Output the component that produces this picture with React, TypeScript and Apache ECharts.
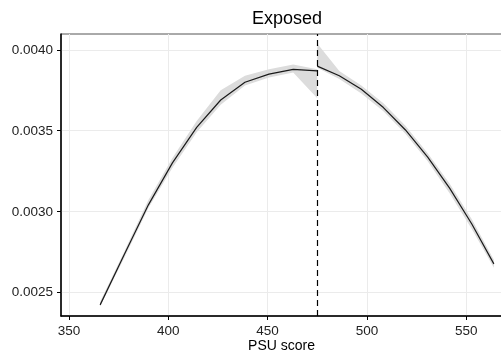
import React, { useEffect, useRef } from "react";
import * as echarts from "echarts";

const leftX = [365.7, 377.8, 390.0, 402.1, 414.3, 426.4, 438.6, 450.7, 462.9, 475.0];
const leftY = [0.00242, 0.00273, 0.00304, 0.0033, 0.00352, 0.00369, 0.0038, 0.00385, 0.00388, 0.00387];
const leftLo = [0.00241, 0.00271, 0.00302, 0.00327, 0.00349, 0.00366, 0.00378, 0.00383, 0.00386, 0.0037];
const leftHi = [0.00244, 0.00275, 0.00307, 0.00333, 0.00356, 0.00375, 0.00384, 0.00388, 0.00391, 0.00388];

const rightX = [475.0, 486.1, 497.2, 508.3, 519.4, 530.6, 541.7, 552.8, 563.9];
const rightY = [0.0039, 0.00384, 0.003756, 0.003643, 0.003504, 0.003336, 0.003142, 0.002921, 0.002674];
const rightLo = [0.00389, 0.00382, 0.00373, 0.00362, 0.00348, 0.00331, 0.00311, 0.00289, 0.00265];
const rightHi = [0.00404, 0.00387, 0.00378, 0.00367, 0.00353, 0.00336, 0.00317, 0.00295, 0.0027];

const xTicks = [350, 400, 450, 500, 550];
const yTicks = [0.0025, 0.003, 0.0035, 0.004];
const cutoff = 475;

const FONT = "Liberation Sans, Arial, Helvetica, sans-serif";

function bandSeries(xs: number[], lo: number[], hi: number[]) {
  return {
    type: "custom",
    silent: true,
    z: 1,
    data: xs.map((x, i) => [x, lo[i], hi[i]]),
    encode: { x: 0, y: [1, 2] },
    renderItem: (params: any, api: any) => {
      if (params.dataIndex !== 0) return null;
      const top = xs.map((x, i) => api.coord([x, hi[i]]));
      const bottom = xs.map((x, i) => api.coord([x, lo[i]])).reverse();
      return {
        type: "polygon",
        shape: { points: top.concat(bottom) },
        style: { fill: "#dcdcdc", stroke: "none" },
      };
    },
  };
}

export default function App() {
  const ref = useRef<HTMLDivElement>(null);
  useEffect(() => {
    if (!ref.current) return;
    const chart = echarts.init(ref.current, null, { renderer: "svg" });
    const pairs = (xs: number[], ys: number[]) => xs.map((x, i) => [x, ys[i]]);
    chart.setOption({
      animation: false,
      title: {
        text: "Exposed",
        left: 282,
        top: 4,
        textAlign: "center",
        textStyle: { fontFamily: FONT, fontSize: 18, fontWeight: "normal", color: "#000" },
      },
      grid: {
        left: 61,
        top: 34,
        right: -1,
        bottom: 38,
        show: true,
        borderColor: "#555",
        borderWidth: 1,
        containLabel: false,
        outerBoundsMode: "none",
      },
      xAxis: {
        type: "value",
        min: 346,
        max: 568,
        name: "PSU score",
        nameLocation: "middle",
        nameGap: 22,
        nameMoveOverlap: false,
        nameTextStyle: { fontFamily: FONT, fontSize: 14, lineHeight: 14, color: "#000" },
        axisLine: { show: true, onZero: false, lineStyle: { color: "#000", width: 1.5 } },
        axisTick: { show: true, length: 4, customValues: xTicks, lineStyle: { color: "#000" } },
        axisLabel: { customValues: xTicks, margin: 7, fontFamily: FONT, fontSize: 13.5, color: "#222" },
        splitLine: { show: true, lineStyle: { color: "#ebebeb", width: 1 } },
      },
      yAxis: {
        type: "value",
        min: 0.002351,
        max: 0.004099,
        axisLine: { show: true, onZero: false, lineStyle: { color: "#000", width: 1.5 } },
        axisTick: { show: true, length: 4, customValues: yTicks, lineStyle: { color: "#000" } },
        axisLabel: {
          customValues: yTicks,
          margin: 8,
          fontFamily: FONT,
          fontSize: 13.5,
          color: "#222",
          formatter: (v: number) => v.toFixed(4),
        },
        splitLine: { show: true, lineStyle: { color: "#ebebeb", width: 1 } },
      },
      series: [
        bandSeries(leftX, leftLo, leftHi),
        bandSeries(rightX, rightLo, rightHi),
        {
          type: "line",
          z: 3,
          data: pairs(leftX, leftY),
          symbol: "none",
          lineStyle: { color: "#1a1a1a", width: 1.2 },
          markLine: {
            silent: true,
            symbol: "none",
            label: { show: false },
            lineStyle: { color: "#000", type: [6, 4], width: 1.2 },
            data: [{ xAxis: cutoff }],
          },
        },
        {
          type: "line",
          z: 3,
          data: pairs(rightX, rightY),
          symbol: "none",
          lineStyle: { color: "#1a1a1a", width: 1.2 },
        },
      ],
    });
    return () => chart.dispose();
  }, []);
  return <div ref={ref} style={{ position: "fixed", left: 0, top: 0, width: 501, height: 354 }} />;
}
